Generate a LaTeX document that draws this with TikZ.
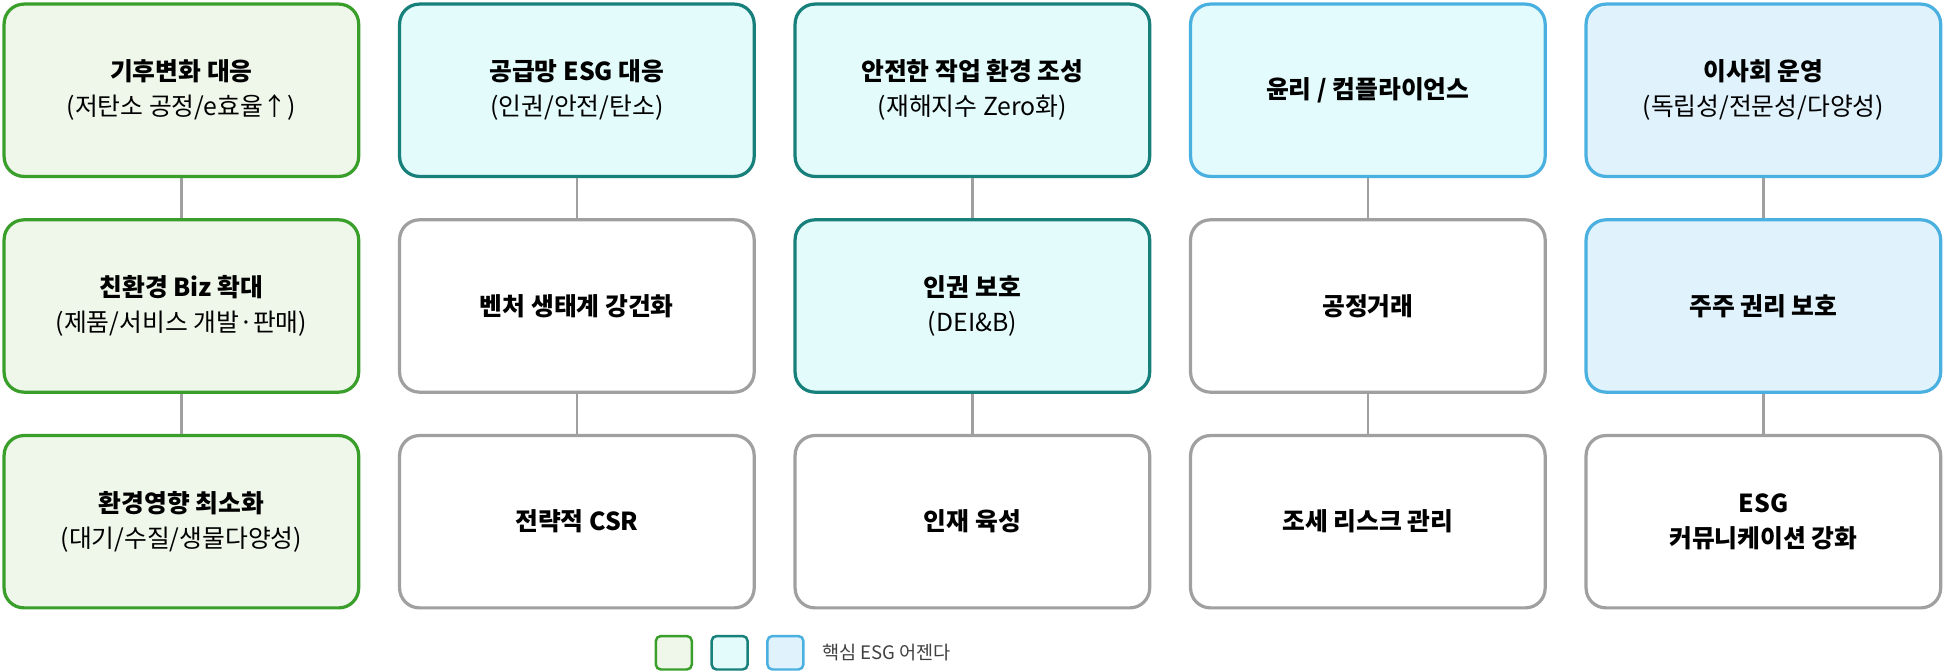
\documentclass[tikz,border=0pt]{standalone}
\usepackage{fontspec}
\setmainfont{Noto Sans CJK KR}
\definecolor{gB}{HTML}{3A9E2A}\definecolor{gF}{HTML}{EEF7EA}
\definecolor{tB}{HTML}{17807A}\definecolor{tF}{HTML}{E3FBFB}
\definecolor{bB}{HTML}{4AB0E0}\definecolor{bF}{HTML}{E0F2FC}
\definecolor{cF}{HTML}{E3FBFC}
\definecolor{nB}{HTML}{A0A0A0}
\begin{document}
\begin{tikzpicture}[x=1pt,y=-1pt,
 bx/.style={draw=nB,fill=white,line width=2.6pt,rounded corners=16pt,minimum width=286pt,minimum height=139pt,align=center,font=\fontsize{20}{28}\selectfont,anchor=north west,inner sep=0pt},
 gbx/.style={bx,draw=gB,fill=gF},
 tbx/.style={bx,draw=tB,fill=tF},
 bbx/.style={bx,draw=bB,fill=bF},
 cbx/.style={bx,draw=bB,fill=cF},
 ln/.style={draw=nB,line width=2pt},
 lg/.style={line width=2pt,rounded corners=4pt,minimum width=29pt,minimum height=27pt,inner sep=0pt,anchor=north west}]
\useasboundingbox (0,0) rectangle (1568,542);
\node[gbx] (a1) at (2,2) {\textbf{기후변화 대응}\\(저탄소 공정/e효율↑)};
\node[gbx] (a2) at (2,176) {\textbf{친환경 Biz 확대}\\(제품/서비스 개발·판매)};
\node[gbx] (a3) at (2,350) {\textbf{환경영향 최소화}\\(대기/수질/생물다양성)};
\node[tbx] (b1) at (321,2) {\textbf{공급망 ESG 대응}\\(인권/안전/탄소)};
\node[bx] (b2) at (321,176) {\textbf{벤처 생태계 강건화}};
\node[bx] (b3) at (321,350) {\textbf{전략적 CSR}};
\node[tbx] (c1) at (640,2) {\textbf{안전한 작업 환경 조성}\\(재해지수 Zero화)};
\node[tbx] (c2) at (640,176) {\textbf{인권 보호}\\(DEI\&B)};
\node[bx] (c3) at (640,350) {\textbf{인재 육성}};
\node[cbx] (d1) at (959,2) {\textbf{윤리 / 컴플라이언스}};
\node[bx] (d2) at (959,176) {\textbf{공정거래}};
\node[bx] (d3) at (959,350) {\textbf{조세 리스크 관리}};
\node[bbx] (e1) at (1278,2) {\textbf{이사회 운영}\\(독립성/전문성/다양성)};
\node[bbx] (e2) at (1278,176) {\textbf{주주 권리 보호}};
\node[bx] (e3) at (1278,350) {\textbf{ESG}\\\textbf{커뮤니케이션 강화}};
\foreach \c in {a,b,c,d,e}{\draw[ln] (\c1) -- (\c2); \draw[ln] (\c2) -- (\c3);}
\node[lg,draw=gB,fill=gF] (l1) at (528,512) {};
\node[lg,draw=tB,fill=tF] (l2) at (573,512) {};
\node[lg,draw=bB,fill=bF] (l3) at (618,512) {};
\node[anchor=west,font=\fontsize{15}{17}\selectfont,text=black!75,inner sep=0pt] (lt) at (663,526) {핵심 ESG 어젠다};
\end{tikzpicture}
\end{document}
